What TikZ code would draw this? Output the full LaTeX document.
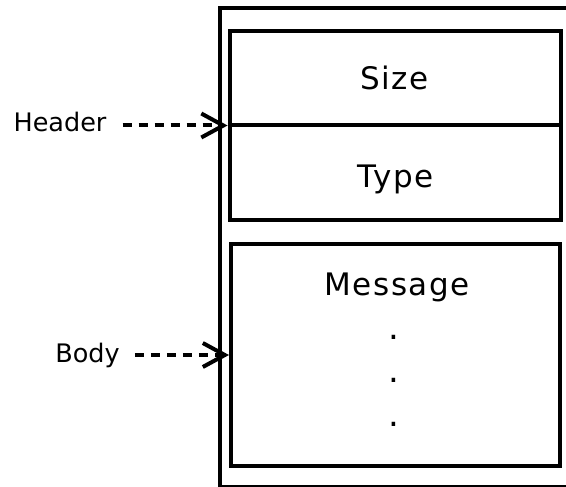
\documentclass[tikz,border=0pt]{standalone}
\usepackage{fontspec}
\setmainfont{DejaVu Sans}
\usetikzlibrary{arrows.meta}

\tikzset{
  field/.style={draw, line width=4pt, rectangle, inner sep=0pt},
  bigtext/.style={font=\fontsize{31}{31}\selectfont\addfontfeature{LetterSpace=5},
                  inner sep=0pt, text height=22.6pt, text depth=0pt},
  sidetext/.style={font=\fontsize{25.5}{25.5}\selectfont, inner sep=0pt,
                   text height=18.6pt, text depth=0pt},
  dotmark/.style={font=\fontsize{34}{34}\selectfont, inner sep=0pt, anchor=base},
  pointer/.style={line width=4pt, dash pattern=on 9pt off 7pt,
                  -{Straight Barb[length=22pt, width=24pt, line width=4pt]}},
}

\begin{document}
\begin{tikzpicture}[x=1pt, y=-1pt]
  \useasboundingbox (0,0) rectangle (566,487);
  \clip (0,0) rectangle (566,487);

  % outer frame, running past the right and bottom edges
  \draw[line width=4pt] (580,487.3) -- (219.5,487.3) -- (219.5,8) -- (580,8);

  % header block with its two fields
  \node[field, minimum width=331.5pt, minimum height=188pt] (header) at (395.25,125.5) {};
  \draw[line width=4pt] (header.west) -- (header.east);
  \node[bigtext] (size) at (394.5,78.5) {Size};
  \node[bigtext] (type) at (395.5,176.5) {Type};

  % message body
  \node[field, minimum width=328.5pt, minimum height=222pt] (body) at (395.25,355) {};
  \node[bigtext] (msg) at (397,284) {Message};
  \node[dotmark] (d1) at (394,339) {.};
  \node[dotmark] (d2) at (394,382.5) {.};
  \node[dotmark] (d3) at (394,426.5) {.};

  % side labels with pointers
  \node[sidetext] (hlabel) at (60,122.5) {Header};
  \node[sidetext] (blabel) at (87.5,353.5) {Body};
  \draw[pointer, shorten <=16pt] (hlabel.east |- header.west) -- (header.west);
  \draw[pointer, shorten <=15pt] (blabel.east |- body.west) -- (body.west);
\end{tikzpicture}
\end{document}
